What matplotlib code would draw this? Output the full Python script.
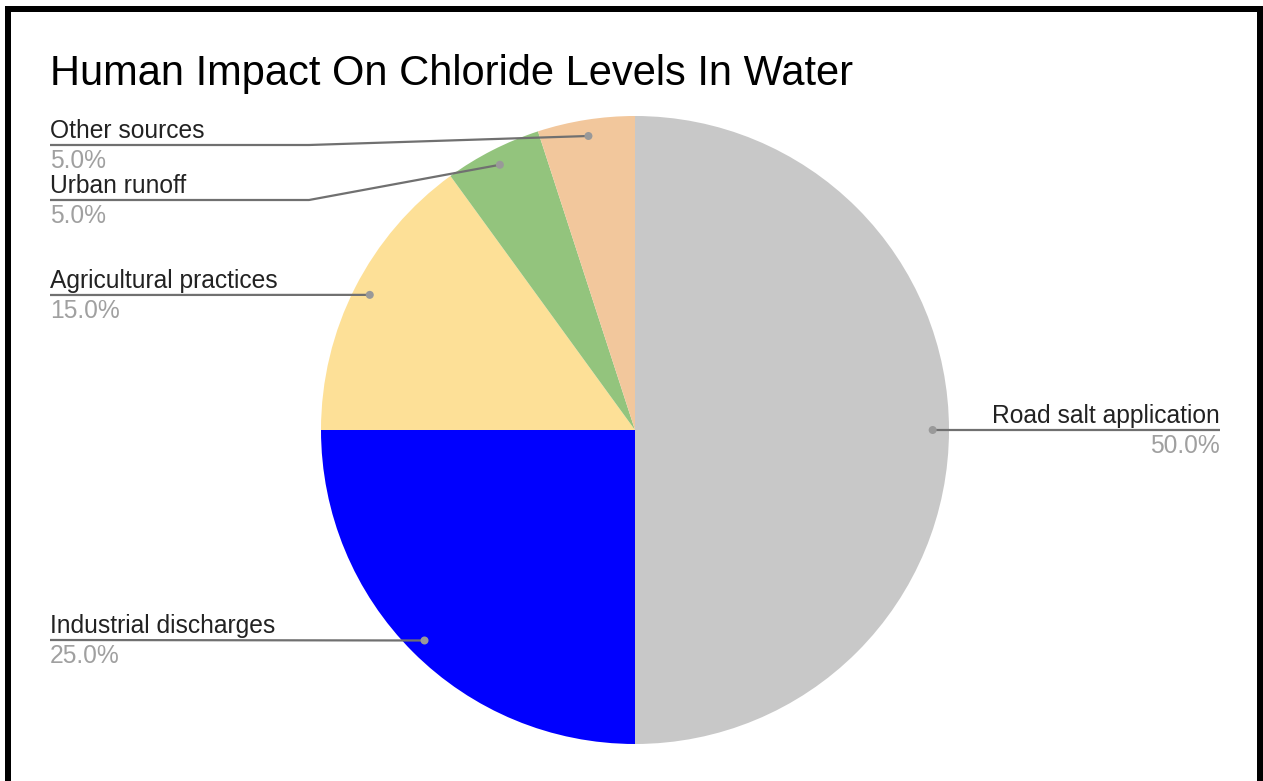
import numpy as np
import matplotlib
matplotlib.use('Agg')
import matplotlib.pyplot as plt
from matplotlib.patches import Rectangle, Circle

# chart data
labels = ['Road salt application', 'Industrial discharges', 'Agricultural practices',
          'Urban runoff', 'Other sources']
shares = [50.0, 25.0, 15.0, 5.0, 5.0]
colors = ['#c8c8c8', '#0000ff', '#fde097', '#93c47d', '#f2c79c']
title = 'Human Impact On Chloride Levels In Water'

W, H = 1263, 781
plt.rcParams['font.family'] = ['Liberation Sans', 'DejaVu Sans']

fig = plt.figure(figsize=(W / 100, H / 100), dpi=100)

# pie axes: center (635, 430), radius 314 px
cx, cy, r = 635, 430, 314
ax = fig.add_axes([(cx - r) / W, (H - cy - r) / H, 2 * r / W, 2 * r / H])
wedges, _ = ax.pie(shares, colors=colors, startangle=90, counterclock=False,
                   radius=1.0, wedgeprops=dict(linewidth=0))
ax.set_xlim(-1, 1)
ax.set_ylim(-1, 1)
ax.axis('off')

# overlay axes in pixel coords (y down)
ov = fig.add_axes([0, 0, 1, 1], zorder=5)
ov.set_xlim(0, W)
ov.set_ylim(H, 0)
ov.axis('off')
ov.patch.set_alpha(0)

# frame
for rect in [(5, 6, 1258, 6), (5, 6, 6, H), (1257, 6, 6, H)]:
    ov.add_patch(Rectangle((rect[0], rect[1]), rect[2], rect[3], color='black', lw=0))

ov.text(50, 85, title, fontsize=30, color='#000000', va='baseline', ha='left')


def anchor(w):
    mid = np.deg2rad((w.theta1 + w.theta2) / 2)
    px, py = ax.transData.transform((0.948 * np.cos(mid), 0.948 * np.sin(mid)))
    return px, H - py


# label layout: (line y, elbow x, text x, side)
layout = {
    'Road salt application': (430, None, 1220, 'right'),
    'Industrial discharges': (640, None, 50, 'left'),
    'Agricultural practices': (295, None, 50, 'left'),
    'Urban runoff': (200, 309, 50, 'left'),
    'Other sources': (145, 309, 50, 'left'),
}

line_col = '#707070'
for w, lab, val in zip(wedges, labels, shares):
    ax_, ay_ = anchor(w)
    ly, ex, tx, side = layout[lab]
    if ex is None:
        xs, ys = [ax_, tx], [ay_, ly]
    else:
        xs, ys = [ax_, ex, tx], [ay_, ly, ly]
    ov.plot(xs, ys, color=line_col, lw=1.6, solid_capstyle='butt')
    ov.add_patch(Circle((ax_, ay_), 4, color='#999999', lw=0, zorder=6))
    ov.text(tx, ly - 7, lab, fontsize=17.7, color='#222222', ha=side, va='baseline')
    ov.text(tx, ly + 23, f'{val:.1f}%', fontsize=17.7, color='#a0a0a0', ha=side, va='baseline')

fig.savefig('out.png', dpi=100, facecolor='white')
